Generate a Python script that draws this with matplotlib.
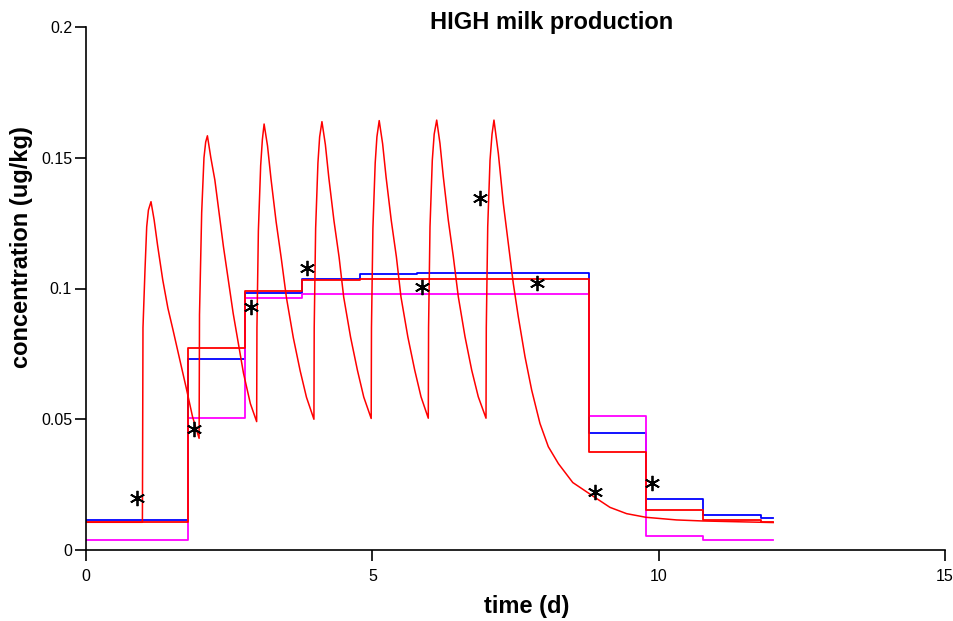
import matplotlib
matplotlib.use("Agg")
import matplotlib.pyplot as plt

plt.rcParams['font.family'] = ['Liberation Sans', 'DejaVu Sans']

# Step-series (piecewise constant) edges and values
blue_edges = [0, 1.78, 2.78, 3.78, 4.78, 5.78, 8.78, 9.78, 10.78, 11.78, 12.0]
blue_vals = [0.0115, 0.0730, 0.0982, 0.1038, 0.1054, 0.1059, 0.0449, 0.0194, 0.0135, 0.0121]

red_edges = [0, 1.78, 2.78, 3.78, 4.78, 8.78, 9.78, 10.78, 11.78, 12.0]
red_vals = [0.0106, 0.0772, 0.0990, 0.1031, 0.1038, 0.0376, 0.0154, 0.0113, 0.0106]

mag_edges = [0, 1.78, 2.78, 3.78, 8.78, 9.78, 10.78, 12.0]
mag_vals = [0.0038, 0.0506, 0.0965, 0.0980, 0.0512, 0.0052, 0.0037]

# Continuous red curve
curve_t = [0.0, 0.985, 0.995, 1.03, 1.06, 1.09, 1.135, 1.19, 1.25, 1.34, 1.43, 1.52, 1.63, 1.75, 1.86, 1.975,
           1.982, 2.02, 2.06, 2.09, 2.12, 2.18, 2.25, 2.40, 2.57, 2.75, 2.87, 2.98,
           2.985, 3.01, 3.05, 3.08, 3.11, 3.17, 3.23, 3.32, 3.41, 3.50, 3.62, 3.74, 3.85, 3.98,
           3.985, 4.01, 4.05, 4.08, 4.12, 4.18, 4.24, 4.33, 4.42, 4.50, 4.62, 4.74, 4.85, 4.98,
           4.985, 5.01, 5.05, 5.08, 5.12, 5.18, 5.24, 5.33, 5.42, 5.50, 5.62, 5.74, 5.85, 5.977,
           5.982, 6.007, 6.047, 6.08, 6.124, 6.181, 6.239, 6.326, 6.414, 6.501, 6.618, 6.735, 6.85, 6.985,
           6.99, 7.015, 7.055, 7.09, 7.124, 7.2, 7.287, 7.374, 7.461, 7.549, 7.666, 7.782, 7.927, 8.073,
           8.25, 8.5, 8.86, 9.15, 9.44, 9.78, 10.31, 10.77, 12.0]
curve_v = [0.0106, 0.0106, 0.085, 0.107, 0.1236, 0.130, 0.1332, 0.1262, 0.1165, 0.1033, 0.0925, 0.0841, 0.0735, 0.062, 0.051, 0.0427,
           0.090, 0.129, 0.150, 0.156, 0.1584, 0.150, 0.1415, 0.116, 0.0905, 0.0676, 0.056, 0.0491,
           0.085, 0.122, 0.147, 0.157, 0.1629, 0.1545, 0.1420, 0.1255, 0.1115, 0.0965, 0.0812, 0.0685, 0.0584, 0.0500,
           0.085, 0.123, 0.148, 0.158, 0.1638, 0.1550, 0.1424, 0.1259, 0.1119, 0.0967, 0.0814, 0.0687, 0.0585, 0.0503,
           0.085, 0.123, 0.148, 0.158, 0.1642, 0.1553, 0.1426, 0.1261, 0.1121, 0.0968, 0.0815, 0.0688, 0.0586, 0.0504,
           0.085, 0.1236, 0.149, 0.159, 0.1644, 0.1555, 0.1428, 0.1262, 0.1122, 0.0969, 0.0816, 0.0688, 0.0586, 0.0504,
           0.085, 0.1236, 0.149, 0.159, 0.1644, 0.1517, 0.1326, 0.1173, 0.102, 0.0892, 0.0739, 0.0612, 0.0484, 0.0395,
           0.033, 0.0258, 0.0205, 0.0163, 0.0139, 0.0125, 0.0115, 0.0111, 0.0105]

# Observations (asterisks)
obs_t = [0.885, 1.886, 2.88, 3.865, 5.873, 6.88, 7.88, 8.88, 9.88]
obs_v = [0.0198, 0.0461, 0.0929, 0.1077, 0.1007, 0.1345, 0.1020, 0.0221, 0.0257]

x_ticks = [0, 5, 10, 15]
y_ticks = [0, 0.05, 0.1, 0.15, 0.2]
y_ticklabels = ['0', '0.05', '0.1', '0.15', '0.2']

fig = plt.figure(figsize=(9.54, 6.21), dpi=100)
ax = fig.add_axes([86/954, 71/621, (945-86)/954, (550-27)/621])

ax.plot(blue_edges, blue_vals + [blue_vals[-1]], drawstyle='steps-post', color='#0000ff', lw=1.3)
ax.plot(mag_edges, mag_vals + [mag_vals[-1]], drawstyle='steps-post', color='#ff00ff', lw=1.3)
ax.plot(red_edges, red_vals + [red_vals[-1]], drawstyle='steps-post', color='#ff0000', lw=1.3)
ax.plot(curve_t, curve_v, color='#ff0000', lw=1.1)
ax.plot(obs_t, obs_v, linestyle='none', marker=(6, 2, 0), markersize=11, color='black', mew=1.3)

ax.set_xlim(0, 15)
ax.set_ylim(0, 0.2)
ax.set_xticks(x_ticks)
ax.set_xticklabels([str(v) for v in x_ticks])
ax.set_yticks(y_ticks)
ax.set_yticklabels(y_ticklabels)
ax.spines['top'].set_visible(False)
ax.spines['right'].set_visible(False)
for s in ['left', 'bottom']:
    ax.spines[s].set_linewidth(1.2)
ax.tick_params(direction='out', length=8, width=1.2, labelsize=11.5)
ax.tick_params(axis='x', pad=6)
ax.tick_params(axis='y', pad=2)

fig.text(552/954, 1 - 22/621, 'HIGH milk production', ha='center', va='center', fontsize=17, fontweight='bold')
fig.text(527/954, 1 - 606/621, 'time (d)', ha='center', va='center', fontsize=17, fontweight='bold')
fig.text(22/954, 1 - 247/621, 'concentration (ug/kg)', ha='center', va='center', rotation=90, fontsize=17, fontweight='bold')

fig.savefig('out.png', dpi=100)
